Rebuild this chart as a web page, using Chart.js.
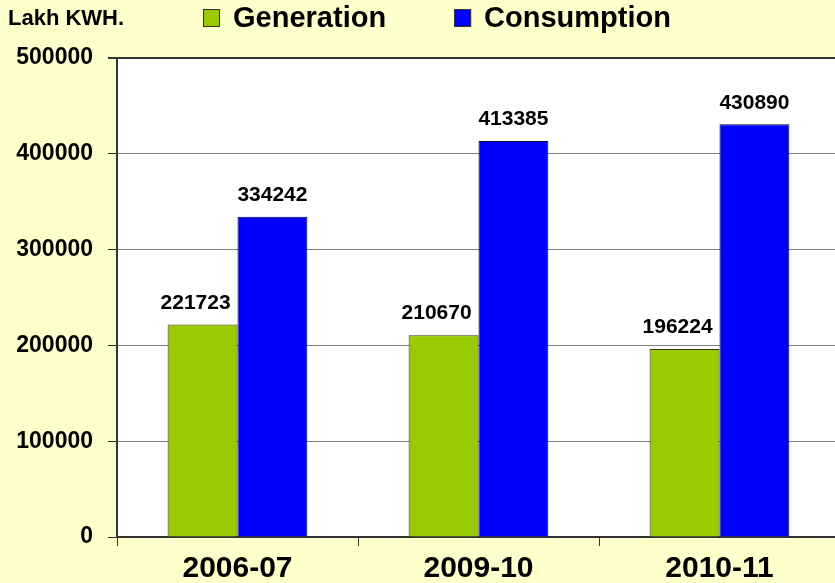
<!DOCTYPE html>
<html>
<head>
<meta charset="utf-8">
<script src="https://cdn.jsdelivr.net/npm/chart.js@4/dist/chart.umd.min.js"></script>
<style>
  body { margin: 0; background: #FFFFCC; overflow: hidden; }
  #wrap { width: 840px; height: 583px; }
</style>
</head>
<body>
<div id="wrap"><canvas id="chart" width="840" height="583"></canvas></div>
<script>
// données du graphique
const years = ['2006-07', '2009-10', '2010-11'];
const generation = [221723, 210670, 196224];
const consumption = [334242, 413385, 430890];
const unitLabel = 'Lakh KWH.';

const fontFamily = '"Liberation Sans", Arial, sans-serif';

// fond blanc de la zone de tracé, unité et légende en haut
const plotDecor = {
  id: 'plotDecor',
  beforeDraw(chart) {
    const { ctx, chartArea } = chart;
    ctx.save();
    ctx.fillStyle = '#FFFFFF';
    ctx.fillRect(chartArea.left, chartArea.top, chartArea.right - chartArea.left, chartArea.bottom - chartArea.top);
    ctx.restore();
  },
  afterDraw(chart) {
    const ctx = chart.ctx;
    ctx.save();
    ctx.font = 'bold 22px ' + fontFamily;
    ctx.fillStyle = '#000';
    ctx.textBaseline = 'top';
    ctx.fillText(unitLabel, 8, 8);

    // légende
    ctx.font = 'bold 29px ' + fontFamily;
    ctx.textBaseline = 'middle';
    const sets = chart.data.datasets;
    const box = 17, gapText = 13, gapItem = 68;
    let total = 0;
    sets.forEach((ds, i) => {
      total += box + gapText + ctx.measureText(ds.label).width + (i < sets.length - 1 ? gapItem : 0);
    });
    let x = 437 - total / 2;
    const cy = 18;
    sets.forEach(ds => {
      ctx.fillStyle = ds.backgroundColor;
      ctx.fillRect(x, cy - 9, box, 18);
      ctx.strokeStyle = '#333';
      ctx.lineWidth = 1;
      ctx.strokeRect(x + 0.5, cy - 8.5, box - 1, 17);
      x += box + gapText;
      ctx.fillStyle = '#000';
      ctx.fillText(ds.label, x, cy + 1);
      x += ctx.measureText(ds.label).width + gapItem;
    });
    ctx.restore();
  }
};

// valeurs au-dessus des barres
const valueLabels = {
  id: 'valueLabels',
  afterDatasetsDraw(chart) {
    const ctx = chart.ctx;
    ctx.save();
    ctx.font = 'bold 21px ' + fontFamily;
    ctx.fillStyle = '#000';
    ctx.textAlign = 'center';
    ctx.textBaseline = 'bottom';
    chart.data.datasets.forEach((ds, i) => {
      const meta = chart.getDatasetMeta(i);
      const shift = i === 0 ? -7 : 0;
      meta.data.forEach((bar, j) => {
        ctx.fillText(String(ds.data[j]), bar.x + shift, bar.y - 11);
      });
    });
    ctx.restore();
  }
};

const config = {
  type: 'bar',
  data: {
    labels: years,
    datasets: [
      {
        label: 'Generation',
        data: generation,
        backgroundColor: '#99CC00',
        borderColor: '#333300',
        borderWidth: 1
      },
      {
        label: 'Consumption',
        data: consumption,
        backgroundColor: '#0000FF',
        borderColor: '#000033',
        borderWidth: 1
      }
    ]
  },
  options: {
    responsive: false,
    animation: false,
    layout: { padding: { top: 58, right: 0, bottom: 0, left: 0 } },
    plugins: {
      legend: { display: false },
      tooltip: { enabled: false }
    },
    datasets: {
      bar: { categoryPercentage: 0.58, barPercentage: 1 }
    },
    scales: {
      x: {
        grid: {
          offset: true,
          drawOnChartArea: false,
          color: '#333',
          tickLength: 9
        },
        border: { color: '#333', width: 2 },
        ticks: {
          color: '#000',
          padding: 5,
          font: { family: fontFamily, size: 30, weight: 'bold' }
        },
        afterFit(scale) { scale.height = 46; }
      },
      y: {
        min: 0,
        max: 500000,
        ticks: {
          stepSize: 100000,
          color: '#000',
          padding: 15,
          font: { family: fontFamily, size: 23, weight: 'bold' },
          callback: v => String(v)
        },
        grid: {
          color: ctx => ctx.tick && ctx.tick.value === 500000 ? '#333' : '#808080',
          lineWidth: ctx => ctx.tick && ctx.tick.value === 500000 ? 2 : 1,
          tickColor: '#333',
          tickLength: 9
        },
        border: { color: '#333', width: 2 },
        afterFit(scale) { scale.width = 117; }
      }
    }
  },
  plugins: [plotDecor, valueLabels]
};

const ctx = document.getElementById('chart').getContext('2d');
new Chart(ctx, config);
</script>
</body>
</html>
